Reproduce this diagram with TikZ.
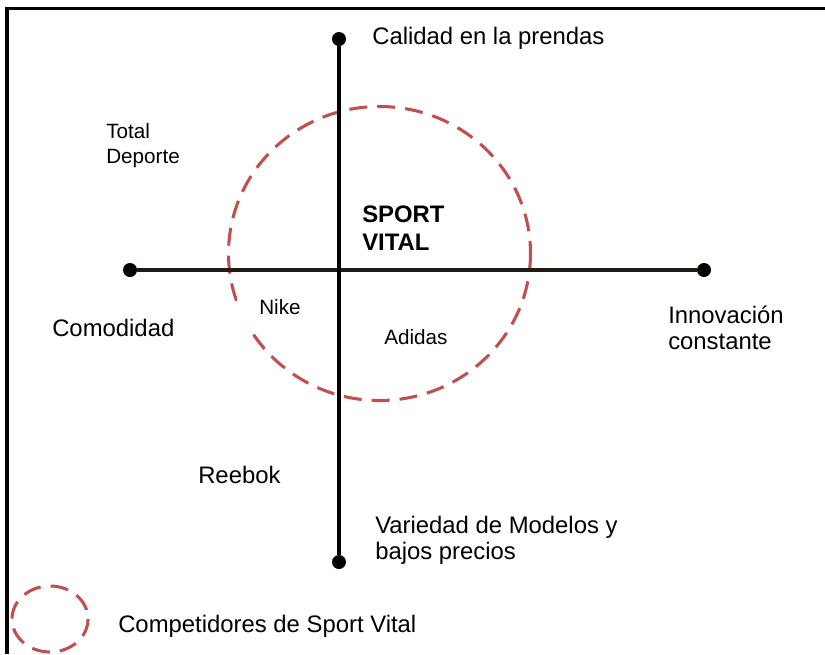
\documentclass[tikz,border=0pt]{standalone}
\usepackage{fontspec}
\setmainfont{Liberation Sans}
\definecolor{compred}{RGB}{192,80,77}
\definecolor{axisdark}{RGB}{30,28,18}
\begin{document}
\begin{tikzpicture}[x=0.75pt,y=-0.75pt,
  big/.style={font=\fontsize{17.9}{19.5}\selectfont, anchor=west, align=left, inner sep=0pt},
  small/.style={font=\fontsize{15.5}{18.8}\selectfont, anchor=west, align=left, inner sep=0pt},
  dot/.style={circle, fill=black, inner sep=0pt, minimum size=10.5pt},
  axis/.style={line width=3pt},
  comp/.style={draw=compred, line width=2.3pt, dash pattern=on 13.5pt off 7.5pt}]
\useasboundingbox (0,0) rectangle (825,654);
% frame
\draw[line width=2.3pt] (7,654) -- (7,8.5) -- (825,8.5);
% competitor circle
\draw[comp] (379.5,253.5) ellipse[x radius=151, y radius=147];
% Nike label with white box
\node[small, fill=white, inner xsep=16.5pt, inner ysep=0pt, minimum height=39pt, anchor=west] (nike) at (237,307) {Nike};
% axes
\node[dot] (top) at (339,39) {};
\node[dot] (bottom) at (339,562) {};
\node[dot] (left) at (130,270) {};
\node[dot] (right) at (704,270) {};
\draw[axis, draw=axisdark] (left) -- (right);
\draw[axis] (top) -- (bottom);
% labels
\node[big] (calidad) at (372,38) {Calidad en la prendas};
\node[small] (total) at (106,145.5) {Total\\Deporte};
\node[big, font=\fontsize{17.9}{21}\selectfont\bfseries] (sv) at (362,228) {SPORT\\VITAL};
\node[big] (comodidad) at (52,328) {Comodidad};
\node[small] (adidas) at (384,337) {Adidas};
\node[big] (innov) at (668,327.5) {Innovación\\constante};
\node[big] (reebok) at (198,475) {Reebok};
\node[big] (variedad) at (375,540) {Variedad de Modelos y\\bajos precios};
% legend
\draw[comp] (50,619) ellipse[x radius=38, y radius=33];
\node[big] (legend) at (118,626) {Competidores de Sport Vital};
\end{tikzpicture}
\end{document}
